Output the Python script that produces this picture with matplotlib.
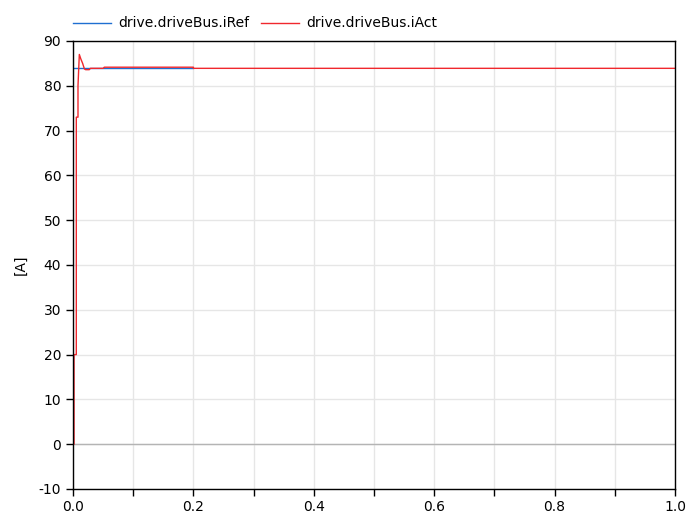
import matplotlib
matplotlib.use("Agg")
import matplotlib.pyplot as plt
from matplotlib.ticker import MultipleLocator

# Data
t_ref = [0.0, 0.2]
i_ref = [83.9, 83.9]

t_act = [0.0, 0.0017, 0.0017, 0.0055, 0.0055, 0.0083, 0.0083, 0.0105, 0.013, 0.016,
         0.019, 0.021, 0.027, 0.029, 0.05, 0.052, 0.2, 0.2, 1.0]
i_act = [0.0, 0.0, 20.0, 20.0, 73.0, 73.0, 80.0, 87.0, 86.0, 85.0,
         83.75, 83.6, 83.6, 83.9, 83.9, 84.15, 84.15, 83.9, 83.9]

series_labels = ["drive.driveBus.iRef", "drive.driveBus.iAct"]
x_ticks = [0.0, 0.2, 0.4, 0.6, 0.8, 1.0]
y_ticks = [-10, 0, 10, 20, 30, 40, 50, 60, 70, 80, 90]

plt.rcParams['font.family'] = ['DejaVu Sans']
plt.rcParams['axes.unicode_minus'] = False
fig = plt.figure(figsize=(6.86, 5.17), dpi=100)
ax = fig.add_axes([73/686, 1-489/517, (675-73)/686, (489-41)/517])

ax.plot(t_ref, i_ref, color='#1f6fd1', lw=1.0, label=series_labels[0], zorder=3)
ax.plot(t_act, i_act, color='#f0282d', lw=1.0, label=series_labels[1], zorder=3)

ax.set_xlim(0, 1)
ax.set_ylim(-10, 90)
ax.set_xticks(x_ticks)
ax.set_xticklabels([f"{v:.1f}" for v in x_ticks])
ax.xaxis.set_minor_locator(MultipleLocator(0.1))
ax.set_yticks(y_ticks)

ax.grid(True, which='both', color='#e6e6e6', lw=1.0)
ax.axhline(0, color='#b4b4b4', lw=1.0, zorder=2)

ax.tick_params(axis='both', which='both', direction='out', length=5, width=1,
               labelsize=10, colors='black')
ax.tick_params(axis='x', which='both', pad=3)
for s in ax.spines.values():
    s.set_color('black')
    s.set_linewidth(1.0)
    s.set_zorder(4)

ax.set_ylabel('[A]', fontsize=10, labelpad=8)

ax.legend(loc='lower left', bbox_to_anchor=(-0.011, 1.008), ncol=2, frameon=False,
          fontsize=10, handlelength=2.7, handletextpad=0.5, columnspacing=0.9,
          borderaxespad=0.3, borderpad=0.2)

fig.savefig('out.png', dpi=100)
